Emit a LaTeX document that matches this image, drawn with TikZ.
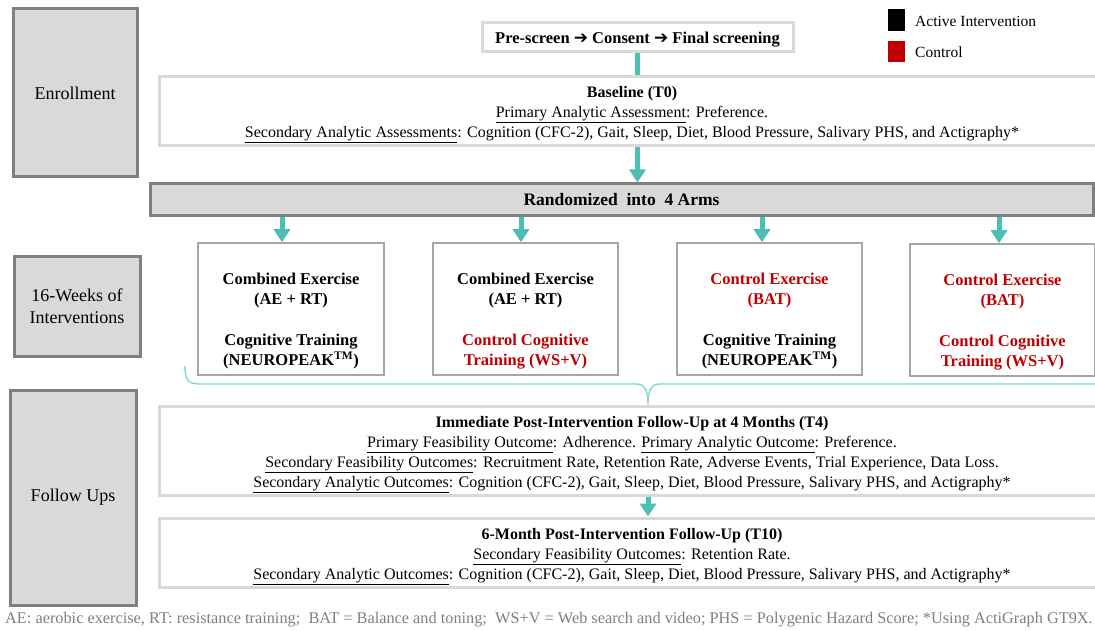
\documentclass[tikz,border=0pt]{standalone}
\usepackage{fontspec}
\setmainfont{Liberation Serif}
\newfontfamily\dejavu{DejaVu Sans}
\usetikzlibrary{arrows.meta,calc}
\definecolor{tealc}{HTML}{4BBFB2}
\definecolor{tealL}{HTML}{7FD3CA}
\definecolor{ctrlred}{HTML}{C00000}
\definecolor{lgray}{HTML}{D9D9D9}
\definecolor{dgray}{HTML}{7F7F7F}
\definecolor{mgray}{HTML}{A6A6A6}
\definecolor{fgray}{HTML}{7F7F7F}
\newcommand{\arr}{{\dejavu\bfseries\fontsize{17}{18}\selectfont ➔}}
\tikzset{
  phase/.style={draw=dgray,fill=lgray,line width=3pt,inner sep=0pt,align=center,font=\fontsize{18}{22}\selectfont},
  infobox/.style={draw=lgray,fill=white,line width=3pt,inner sep=0pt},
  infotxt/.style={inner sep=0pt,align=center,font=\fontsize{16}{20}\selectfont},
  armbox/.style={draw=mgray,fill=white,line width=1.5pt,inner sep=0pt},
  armtxt/.style={align=center,font=\fontsize{16.5}{20}\selectfont\bfseries,inner sep=0pt},
  flow/.style={draw=tealc,line width=5pt,-{Triangle[width=16pt,length=13pt]}},
  flowbar/.style={draw=tealc,line width=5pt},
  bracel/.style={draw=tealL,line width=1.3pt}
}
\begin{document}
\begin{tikzpicture}[x=1pt,y=-1pt]
\useasboundingbox (0,0) rectangle (1095,631);
% phase labels
\node[phase,minimum width=124pt,minimum height=168pt] (enr) at (75,93) {Enrollment};
\node[phase,minimum width=126pt,minimum height=100pt] (wk) at (77,306) {16-Weeks of\\Interventions};
\node[phase,minimum width=126pt,minimum height=215pt] (fu) at (73,497.5) {Follow Ups};
% legend
\node[fill=black,minimum width=17pt,minimum height=22pt,inner sep=0pt] (lgA) at (896.5,20.5) {};
\node[fill=ctrlred,minimum width=17pt,minimum height=21pt,inner sep=0pt] (lgC) at (896.5,51.5) {};
\node[anchor=west,inner sep=0pt,font=\fontsize{15.5}{18}\selectfont] (lgAt) at (915,21) {Active Intervention};
\node[anchor=west,inner sep=0pt,font=\fontsize{15.5}{18}\selectfont] (lgCt) at (915,52) {Control};
% enrollment
\node[infobox,minimum width=311pt,minimum height=29pt] (pre) at (637.5,37.5) {};
\node[infotxt,font=\fontsize{16.5}{18}\selectfont\bfseries] (pret) at ([yshift=-2pt]pre.center) {Pre-screen \arr{} Consent \arr{} Final screening};
\node[infobox,minimum width=945pt,minimum height=69pt] (base) at (632,111.5) {};
\node[infotxt] (baset) at ([yshift=-3.5pt]base.center) {\textbf{Baseline (T0)}\\
\underline{Primary Analytic Assessment}: Preference.\\
\underline{Secondary Analytic Assessments}: Cognition (CFC-2), Gait, Sleep, Diet, Blood Pressure, Salivary PHS, and Actigraphy*};
\node[phase,minimum width=943pt,minimum height=32pt,font=\fontsize{17.5}{20}\selectfont\bfseries] (rand) at (621.5,200) {Randomized\ \ into\ \ 4 Arms};
% arms
\node[armbox,minimum width=186pt,minimum height=132pt] (a1) at (291,309) {};
\node[armbox,minimum width=185pt,minimum height=132pt] (a2) at (525.5,309) {};
\node[armbox,minimum width=185pt,minimum height=132pt] (a3) at (769.5,309) {};
\node[armbox,minimum width=185pt,minimum height=132pt] (a4) at (1002.5,310) {};
\node[armtxt] (a1t) at ([yshift=-12.5pt]a1.center) {Combined Exercise\\(AE + RT)\\[21pt]Cognitive Training\\(NEUROPEAK\textsuperscript{TM})};
\node[armtxt] (a2t) at ([yshift=-12.5pt]a2.center) {Combined Exercise\\(AE + RT)\\[21pt]\textcolor{ctrlred}{Control Cognitive}\\\textcolor{ctrlred}{Training (WS+V)}};
\node[armtxt] (a3t) at ([yshift=-12.5pt]a3.center) {\textcolor{ctrlred}{Control Exercise}\\\textcolor{ctrlred}{(BAT)}\\[21pt]Cognitive Training\\(NEUROPEAK\textsuperscript{TM})};
\node[armtxt] (a4t) at ([yshift=-12.5pt]a4.center) {\textcolor{ctrlred}{Control Exercise}\\\textcolor{ctrlred}{(BAT)}\\[21pt]\textcolor{ctrlred}{Control Cognitive}\\\textcolor{ctrlred}{Training (WS+V)}};
% follow ups
\node[infobox,minimum width=945pt,minimum height=89pt] (t4) at (632,450.5) {};
\node[infotxt] (t4t) at ([yshift=-4.5pt]t4.center) {\textbf{Immediate Post-Intervention Follow-Up at 4 Months (T4)}\\
\underline{Primary Feasibility Outcome}: Adherence. \underline{Primary Analytic Outcome}: Preference.\\
\underline{Secondary Feasibility Outcomes}: Recruitment Rate, Retention Rate, Adverse Events, Trial Experience, Data Loss.\\
\underline{Secondary Analytic Outcomes}: Cognition (CFC-2), Gait, Sleep, Diet, Blood Pressure, Salivary PHS, and Actigraphy*};
\node[infobox,minimum width=945pt,minimum height=69pt] (t10) at (632,552.5) {};
\node[infotxt] (t10t) at ([yshift=-4.5pt]t10.center) {\textbf{6-Month Post-Intervention Follow-Up (T10)}\\
\underline{Secondary Feasibility Outcomes}: Retention Rate.\\
\underline{Secondary Analytic Outcomes}: Cognition (CFC-2), Gait, Sleep, Diet, Blood Pressure, Salivary PHS, and Actigraphy*};
% footer
\node[anchor=west,inner sep=0pt,text=fgray,font=\fontsize{16.3}{18}\selectfont] (foot) at (5,620) {AE: aerobic exercise, RT: resistance training;\ \ BAT = Balance and toning;\ \ WS+V = Web search and video; PHS = Polygenic Hazard Score; *Using ActiGraph GT9X.};
% connectors
\draw[flowbar] (pre.south) -- (base.north -| pre.south);
\draw[flow] (base.south -| pre.south) -- (rand.north -| pre.south);
\foreach \x/\a in {282/a1,521/a2,762/a3,999/a4}{
  \draw[flow] (\x,0 |- rand.south) -- (\x,0 |- \a.north);
}
% brace
\coordinate (btip) at (648,0 |- t4.north);
\draw[bracel] (185,366) .. controls (185,380) and (188,384) .. (200,384) -- (636,384)
  .. controls (645,384) and (648,390) .. (btip)
  .. controls (648,390) and (651,384) .. (660,384) -- (1100,384);
\draw[flow] (t4.south -| btip) -- (t10.north -| btip);
\end{tikzpicture}
\end{document}
